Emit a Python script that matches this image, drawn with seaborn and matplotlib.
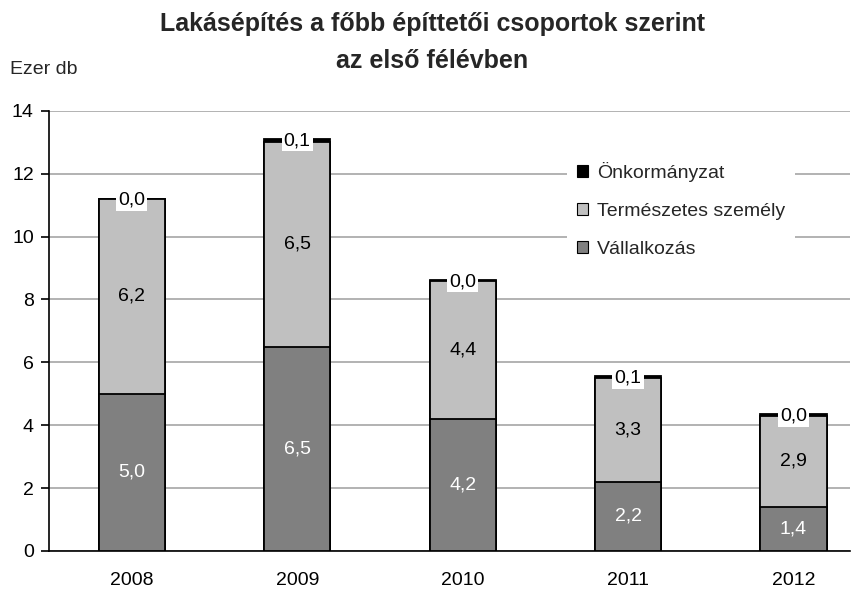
import matplotlib.pyplot as plt
import pandas as pd
import seaborn as sns
from matplotlib.patches import Patch

# ------------------------------------------------------------------
# Adatok (ezer db)
# ------------------------------------------------------------------

years = ["2008", "2009", "2010", "2011", "2012"]
vallalkozas = [5.0, 6.5, 4.2, 2.2, 1.4]
termeszetes = [6.2, 6.5, 4.4, 3.3, 2.9]
onkormanyzat = [0.01, 0.1, 0.02, 0.05, 0.04]

series_names = ["Önkormányzat", "Természetes személy", "Vállalkozás"]
series_colors = ["#000000", "#C0C0C0", "#808080"]

df = pd.DataFrame({
    "ev": years,
    "vall": vallalkozas,
    "term": termeszetes,
    "onk": onkormanyzat,
})
df["alsó_kettő"] = df["vall"] + df["term"]
df["összes"] = df["alsó_kettő"] + df["onk"]

sns.set_theme(style="white")
plt.rcParams["font.family"] = ["Liberation Sans", "DejaVu Sans"]

fig = plt.figure(figsize=(8.61, 5.93), dpi=100)
ax = fig.add_axes([0.057, 0.071, 0.93, 0.742])

# egymásra rajzolt halmozott oszlopok: összes -> alsó kettő -> vállalkozás
bar_kw = dict(width=0.4, edgecolor="black", linewidth=1.3, ax=ax, zorder=3)
sns.barplot(data=df, x="ev", y="összes", color=series_colors[0], **bar_kw)
sns.barplot(data=df, x="ev", y="alsó_kettő", color=series_colors[1], **bar_kw)
sns.barplot(data=df, x="ev", y="vall", color=series_colors[2], **bar_kw)
for p in ax.patches:
    p.set_facecolor(p.get_facecolor()[:3] + (1,))

# ------------------------------------------------------------------
# Feliratok
# ------------------------------------------------------------------

lab_fs = 14
for i, row in df.iterrows():
    ax.text(i, row["vall"] / 2, f"{row['vall']:.1f}".replace(".", ","),
            ha="center", va="center", color="white", fontsize=lab_fs, zorder=5)
    ax.text(i, row["vall"] + row["term"] / 2,
            f"{row['term']:.1f}".replace(".", ","),
            ha="center", va="center", color="black", fontsize=lab_fs, zorder=5)
    ax.text(i, row["összes"] - 0.05, f"{row['onk']:.1f}".replace(".", ","),
            ha="center", va="center", color="black", fontsize=lab_fs, zorder=5,
            bbox=dict(facecolor="white", edgecolor="none", pad=1.5))

# ------------------------------------------------------------------
# Tengelyek
# ------------------------------------------------------------------

ax.set_ylim(0, 14)
ax.set_xlim(-0.5, 4.34)
ax.set_yticks(range(0, 15, 2))
ax.yaxis.grid(True, color="#A6A6A6", linewidth=1.2, zorder=0)
ax.set_axisbelow(True)
ax.set_xlabel("")
ax.set_ylabel("")

for side in ["top", "right"]:
    ax.spines[side].set_visible(False)
for side in ["left", "bottom"]:
    ax.spines[side].set_color("black")
    ax.spines[side].set_linewidth(1.2)

ax.tick_params(axis="y", left=True, length=6, width=1.2, color="black",
               pad=5, labelsize=14, labelcolor="black")
ax.tick_params(axis="x", bottom=False, length=0, pad=15, labelsize=14,
               labelcolor="black")

fig.text(0.012, 0.882, "Ezer db", fontsize=14, ha="left", va="center")
fig.text(0.502, 0.928, "Lakásépítés a főbb építtetői csoportok szerint\naz első félévben",
         fontsize=18, fontweight="bold", ha="center", va="center",
         linespacing=1.7)

handles = [Patch(facecolor=c, edgecolor="black", linewidth=0.8)
           for c in series_colors]
leg = ax.legend(handles, series_names, loc="upper left",
                bbox_to_anchor=(0.635, 0.928), fontsize=14, frameon=True,
                handlelength=0.55, handleheight=0.55, handletextpad=0.5,
                labelspacing=1.08, borderpad=0.5, fancybox=False)
leg.get_frame().set_edgecolor("none")
leg.get_frame().set_facecolor("white")
leg.get_frame().set_alpha(1)
leg.set_zorder(4)

fig.savefig("out.png", dpi=100)
